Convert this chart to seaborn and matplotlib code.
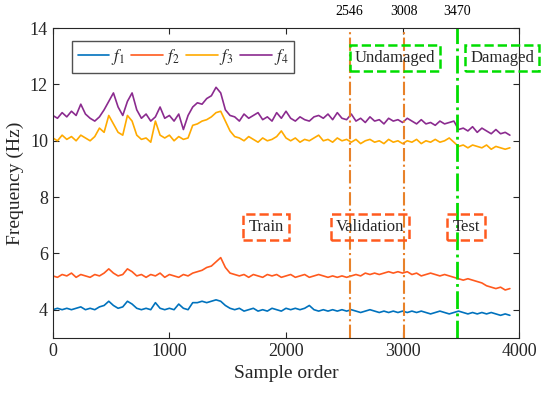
import numpy as np
import pandas as pd
import matplotlib
matplotlib.use("Agg")
import matplotlib.pyplot as plt
import seaborn as sns

# sample positions (every 40 samples)
sample = list(range(0, 3921, 40))

f1 = [4.0, 4.05, 4.0, 4.05, 4.0, 4.05, 4.1, 4.0, 4.05, 4.0,
      4.1, 4.15, 4.3, 4.15, 4.05, 4.1, 4.3, 4.2, 4.05, 4.0,
      4.05, 4.0, 4.25, 4.05, 4.0, 4.05, 4.0, 4.2, 4.05, 4.0,
      4.25, 4.25, 4.3, 4.25, 4.3, 4.35, 4.3, 4.15, 4.05, 4.0,
      4.05, 3.95, 4.0, 4.05, 3.95, 4.0, 3.95, 4.05, 4.0, 3.95,
      4.05, 4.0, 4.05, 4.0, 4.05, 4.15, 4.0, 3.95, 4.0, 3.95,
      4.0, 3.95, 4.0, 3.95, 4.0, 3.95, 3.9, 3.95, 4.0, 3.95,
      3.9, 3.95, 3.9, 3.95, 3.9, 3.95, 3.9, 3.95, 3.9, 3.95,
      3.9, 3.85, 3.9, 3.95, 3.9, 3.85, 3.9, 3.95, 3.9, 3.85,
      3.9, 3.85, 3.9, 3.85, 3.9, 3.85, 3.8, 3.85, 3.8]

f2 = [5.2, 5.15, 5.25, 5.2, 5.3, 5.15, 5.25, 5.2, 5.15, 5.25,
      5.2, 5.3, 5.45, 5.3, 5.2, 5.25, 5.45, 5.35, 5.2, 5.25,
      5.15, 5.25, 5.2, 5.3, 5.15, 5.25, 5.2, 5.15, 5.25, 5.2,
      5.3, 5.35, 5.4, 5.5, 5.55, 5.7, 5.85, 5.5, 5.3, 5.25,
      5.2, 5.25, 5.15, 5.25, 5.2, 5.15, 5.25, 5.2, 5.25, 5.15,
      5.2, 5.25, 5.15, 5.2, 5.25, 5.15, 5.2, 5.25, 5.2, 5.15,
      5.2, 5.15, 5.2, 5.15, 5.2, 5.25, 5.2, 5.3, 5.25, 5.3,
      5.25, 5.3, 5.35, 5.3, 5.35, 5.3, 5.35, 5.25, 5.3, 5.2,
      5.25, 5.3, 5.25, 5.2, 5.25, 5.2, 5.15, 5.1, 5.05, 5.1,
      5.05, 5.0, 4.95, 4.85, 4.8, 4.75, 4.8, 4.7, 4.75]

f3 = [10.1, 10.0, 10.2, 10.05, 10.15, 10.0, 10.2, 10.1, 10.0, 10.15,
      10.45, 10.3, 10.9, 10.6, 10.3, 10.2, 10.9, 10.7, 10.2, 10.05,
      10.1, 9.95, 10.7, 10.2, 10.1, 10.2, 10.0, 10.15, 10.05, 10.1,
      10.55, 10.6, 10.7, 10.75, 10.85, 11.0, 11.05, 10.7, 10.35, 10.15,
      10.1, 10.0, 10.15, 10.05, 9.95, 10.1, 10.0, 10.05, 10.15, 10.35,
      10.1, 10.0, 10.1, 9.95, 10.05, 10.0, 10.1, 10.2, 10.0, 10.05,
      9.95, 10.1, 10.0, 10.05, 9.95, 10.05, 9.9, 10.0, 10.05, 9.95,
      10.0, 9.9, 10.05, 9.95, 10.0, 9.9, 10.0, 9.95, 10.05, 9.9,
      10.0, 9.95, 10.05, 9.95, 10.0, 10.1, 9.95, 9.8, 9.85, 9.75,
      9.85, 9.8, 9.75, 9.85, 9.7, 9.8, 9.75, 9.7, 9.75]

f4 = [10.9, 10.8, 11.0, 10.85, 11.05, 10.9, 11.3, 10.95, 10.8, 10.7,
      10.85, 11.1, 11.4, 11.7, 11.2, 10.9, 11.4, 11.7, 11.1, 10.8,
      10.95, 10.7, 10.85, 11.2, 10.8, 10.9, 10.7, 10.95, 10.4, 10.9,
      11.2, 11.35, 11.3, 11.5, 11.6, 11.9, 11.7, 11.1, 10.9, 10.85,
      10.7, 10.95, 10.8, 10.9, 11.0, 10.75, 10.85, 10.7, 11.0, 10.8,
      11.05, 10.8, 10.7, 10.85, 10.75, 10.7, 10.85, 10.9, 10.8, 10.95,
      10.75, 11.0, 10.8, 10.75, 10.95, 10.7, 10.8, 10.65, 10.85, 10.7,
      10.75, 10.6, 10.8, 10.7, 10.75, 10.65, 10.8, 10.7, 10.6, 10.75,
      10.6, 10.65, 10.55, 10.7, 10.6, 10.65, 10.7, 10.4, 10.45, 10.35,
      10.5, 10.3, 10.45, 10.35, 10.25, 10.4, 10.25, 10.3, 10.2]

splits = [2546, 3008, 3470]
region_labels = ["Train", "Validation", "Test"]
region_x = [1828, 2721, 3545]
state_labels = ["Undamaged", "Damaged"]
state_x = [2935, 3854]

series = {r"$f_1$": f1, r"$f_2$": f2, r"$f_3$": f3, r"$f_4$": f4}
colors = ["#0072BD", "#FF5A1E", "#FFAA00", "#8B2B8F"]

sns.set_style("ticks")
plt.rcParams["font.family"] = ["Liberation Serif", "DejaVu Serif"]
plt.rcParams["mathtext.fontset"] = "stix"

fig, ax = plt.subplots(figsize=(5.5, 3.97), dpi=100)
fig.subplots_adjust(left=0.096, right=0.944, bottom=0.149, top=0.929)

for (name, vals), c in zip(series.items(), colors):
    sns.lineplot(x=sample, y=vals, ax=ax, color=c, lw=1.2, label=name)

# split lines
ax.axvline(splits[0], color="#E8822A", ls="-.", lw=1.5)
ax.axvline(splits[1], color="#E8822A", ls="-.", lw=1.5)
ax.axvline(splits[2], color="#00DD00", ls="-.", lw=2)
for s in splits:
    ax.text(s, 14.35, str(s), ha="center", va="bottom", fontsize=10, color="black")

for lab, xx in zip(region_labels, region_x):
    ax.text(xx, 6.92, lab, ha="center", va="center", fontsize=12,
            bbox=dict(boxstyle="square,pad=0.3", fc="none", ec="#FF5A1E", ls="--", lw=1.8))
for lab, xx in zip(state_labels, state_x):
    ax.text(xx, 12.94, lab, ha="center", va="center", fontsize=12, clip_on=False,
            bbox=dict(boxstyle="square,pad=0.3", fc="none", ec="#00DD00", ls="--", lw=1.8))

ax.set_xlim(0, 4000)
ax.set_ylim(3, 14)
ax.set_xticks([0, 1000, 2000, 3000, 4000])
ax.set_yticks([4, 6, 8, 10, 12, 14])
ax.tick_params(direction="in", top=True, right=True, labelsize=13, colors="#262626", length=4)
for sp in ax.spines.values():
    sp.set_visible(True)
    sp.set_color("#262626")
    sp.set_linewidth(0.8)
ax.set_xlabel("Sample order", fontsize=14, color="#262626")
ax.set_ylabel("Frequency (Hz)", fontsize=14, color="#262626")

ax.legend(loc="upper left", bbox_to_anchor=(0.041, 0.958), borderaxespad=0, ncol=4,
          fontsize=12, frameon=True, fancybox=False, edgecolor="#262626",
          handlelength=1.9, handletextpad=0.1, columnspacing=0.4, borderpad=0.35)

plt.savefig("out.png", dpi=100)
